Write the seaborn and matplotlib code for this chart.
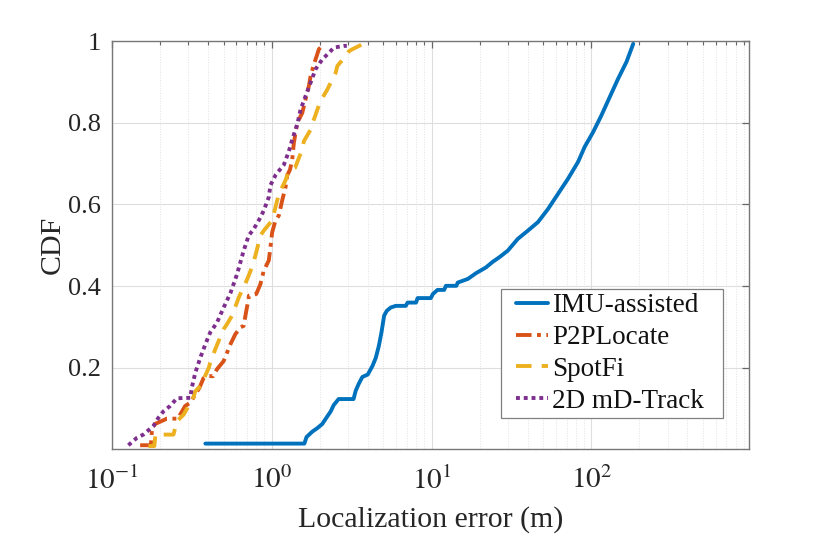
import numpy as np
import pandas as pd
import matplotlib
matplotlib.use("Agg")
import matplotlib.pyplot as plt
import seaborn as sns
from matplotlib.lines import Line2D
from matplotlib.legend_handler import HandlerLine2D
from matplotlib.ticker import FixedLocator, FixedFormatter, LogLocator, NullFormatter

# ---------------- data ----------------
imu_x = [0.384, 1.60, 1.65, 1.79, 1.93, 2.07, 2.17, 2.34, 2.44, 2.62, 3.25, 3.35, 3.50,
         3.69, 3.99, 4.27, 4.48, 4.68, 4.86, 5.05, 5.25, 5.56, 5.98, 6.90, 7.08, 8.00,
         8.18, 9.90, 10.2, 10.9, 12.0, 12.3, 14.3, 14.6, 16.9, 19.0, 21.9, 24.2, 26.6,
         30.0, 34.7, 40.1, 46.4, 53.6, 61.9, 71.5, 82.6, 90.9, 102.6, 115.7, 130.5,
         147.3, 166.1, 183.0]
imu_y = [0.015, 0.015, 0.031, 0.044, 0.053, 0.063, 0.075, 0.094, 0.109, 0.124, 0.124,
         0.144, 0.161, 0.178, 0.184, 0.205, 0.225, 0.254, 0.287, 0.328, 0.340, 0.348,
         0.352, 0.352, 0.360, 0.360, 0.371, 0.371, 0.381, 0.391, 0.391, 0.401, 0.401,
         0.409, 0.418, 0.432, 0.446, 0.460, 0.471, 0.487, 0.516, 0.536, 0.557, 0.589,
         0.626, 0.663, 0.704, 0.741, 0.777, 0.818, 0.863, 0.908, 0.949, 0.993]

p2p_x = [0.150, 0.175, 0.178, 0.186, 0.2206, 0.260, 0.267, 0.287, 0.309, 0.332, 0.353,
         0.374, 0.393, 0.430, 0.454, 0.500, 0.551, 0.592, 0.640, 0.667, 0.684, 0.705,
         0.720, 0.800, 0.849, 0.891, 0.958, 0.981, 1.006, 1.055, 1.107, 1.162, 1.219,
         1.249, 1.300, 1.343, 1.374, 1.444, 1.552, 1.627, 1.707, 1.750, 1.835, 1.909,
         1.972, 2.07, 2.12]
p2p_y = [0.011, 0.011, 0.050, 0.063, 0.076, 0.076, 0.086, 0.107, 0.115, 0.135, 0.152,
         0.175, 0.180, 0.180, 0.197, 0.217, 0.258, 0.283, 0.300, 0.303, 0.328, 0.356,
         0.377, 0.381, 0.405, 0.438, 0.463, 0.495, 0.532, 0.561, 0.573, 0.610, 0.642,
         0.671, 0.685, 0.710, 0.750, 0.800, 0.824, 0.857, 0.890, 0.914, 0.943, 0.963,
         0.980, 0.988, 0.988]

spot_x = [0.169, 0.184, 0.187, 0.2425, 0.255, 0.281, 0.301, 0.316, 0.332, 0.366, 0.374,
          0.403, 0.412, 0.443, 0.465, 0.500, 0.524, 0.564, 0.592, 0.621, 0.636, 0.667,
          0.717, 0.737, 0.790, 0.809, 0.849, 0.891, 1.006, 1.030, 1.081, 1.122, 1.219,
          1.279, 1.400, 1.478, 1.552, 1.589, 1.750, 1.820, 1.945, 2.020, 2.226, 2.337,
          2.510, 2.574, 2.900, 3.040, 3.200, 3.690, 3.970]
spot_y = [0.009, 0.009, 0.037, 0.037, 0.070, 0.086, 0.107, 0.115, 0.143, 0.160, 0.172,
          0.200, 0.213, 0.246, 0.266, 0.295, 0.307, 0.328, 0.350, 0.372, 0.381, 0.397,
          0.426, 0.438, 0.475, 0.491, 0.524, 0.536, 0.561, 0.577, 0.610, 0.630, 0.659,
          0.683, 0.690, 0.714, 0.734, 0.755, 0.783, 0.804, 0.836, 0.853, 0.881, 0.898,
          0.922, 0.939, 0.963, 0.975, 0.980, 0.992, 0.992]

md_x = [0.1266, 0.143, 0.157, 0.1816, 0.195, 0.210, 0.231, 0.255, 0.309, 0.316, 0.332,
        0.357, 0.384, 0.412, 0.454, 0.500, 0.551, 0.607, 0.667, 0.717, 0.771, 0.829,
        0.891, 0.958, 0.981, 1.060, 1.190, 1.279, 1.343, 1.444, 1.514, 1.627, 1.750,
        1.880, 2.070, 2.280, 2.450, 2.830, 2.950]
md_y = [0.011, 0.029, 0.037, 0.058, 0.078, 0.094, 0.107, 0.126, 0.127, 0.152, 0.188,
        0.225, 0.258, 0.287, 0.311, 0.348, 0.383, 0.430, 0.487, 0.524, 0.540, 0.561,
        0.585, 0.618, 0.647, 0.673, 0.697, 0.730, 0.759, 0.796, 0.832, 0.865, 0.898,
        0.931, 0.955, 0.971, 0.984, 0.988, 0.988]

series_names = ["IMU-assisted", "P2PLocate", "SpotFi", "2D mD-Track"]
xtick_vals = [0.1, 1, 10, 100]
xtick_labels = [r"$10^{-1}$", r"$10^{0}$", r"$10^{1}$", r"$10^{2}$"]
ytick_vals = [0.2, 0.4, 0.6, 0.8, 1.0]
ytick_labels = ["0.2", "0.4", "0.6", "0.8", "1"]

# ---------------- style ----------------
sns.set_style("white")
plt.rcParams["font.family"] = ["Liberation Serif", "DejaVu Serif"]
plt.rcParams["mathtext.fontset"] = "stix"

colors = ["#0072BD", "#D95319", "#EDB120", "#7E2F8E"]
styles = ["-", (0, (4, 1.4, 1, 1.4)), (0, (4, 2.6)), (0, (1, 1))]
xs = [imu_x, p2p_x, spot_x, md_x]
ys = [imu_y, p2p_y, spot_y, md_y]

fig = plt.figure(figsize=(8.3, 5.36), dpi=100)
ax = fig.add_axes([112 / 830, (536 - 448.5) / 536, (749.3 - 112) / 830, (448.5 - 41) / 536])

for name, c, ls, x, y in zip(series_names, colors, styles, xs, ys):
    df = pd.DataFrame({"x": x, "y": y})
    sns.lineplot(data=df, x="x", y="y", ax=ax, color=c, lw=2.8,
                 estimator=None, sort=False, label=name)
    ax.lines[-1].set_linestyle(ls)

ax.set_xscale("log")
ax.set_xlim(0.1, 975)
ax.set_ylim(0.003, 1.0)

ax.xaxis.set_major_locator(FixedLocator(xtick_vals))
ax.xaxis.set_major_formatter(FixedFormatter(xtick_labels))
ax.xaxis.set_minor_locator(LogLocator(base=10, subs=np.arange(2, 10)))
ax.xaxis.set_minor_formatter(NullFormatter())
ax.yaxis.set_major_locator(FixedLocator(ytick_vals))
ax.yaxis.set_major_formatter(FixedFormatter(ytick_labels))

ax.tick_params(axis="both", which="both", direction="in", top=True, right=True,
               colors="#666666", labelcolor="#262626")
ax.tick_params(axis="both", which="major", length=5, width=0.9)
ax.tick_params(axis="both", which="minor", length=3, width=0.8)
ax.tick_params(axis="y", labelsize=19, pad=8)
ax.tick_params(axis="x", labelsize=21, pad=13)

ax.grid(True, which="major", color="#dedede", lw=0.8, ls="-")
ax.grid(True, which="minor", axis="x", color="#e2e2e2", lw=0.7, ls=":")
ax.set_axisbelow(True)

for s in ax.spines.values():
    s.set_color("#777777")
    s.set_linewidth(1.0)

ax.set_xlabel("Localization error (m)", fontsize=21.5, color="#262626", labelpad=8)
ax.set_ylabel("CDF", fontsize=21.5, color="#262626", labelpad=1.5)

leg = ax.legend(loc="lower left", bbox_to_anchor=(0.61, 0.0756, 0.348, 0.3144),
                mode="expand", borderaxespad=0,
                handler_map={Line2D: HandlerLine2D(xpad=0.42)},
                fontsize=19.5, handlelength=1.59, handletextpad=0.15, labelspacing=0.25,
                borderpad=0.15, fancybox=False, framealpha=1, edgecolor="#808080")
leg.get_frame().set_linewidth(0.9)
for t in leg.get_texts():
    t.set_color("#111111")

fig.savefig("out.png", dpi=100)
